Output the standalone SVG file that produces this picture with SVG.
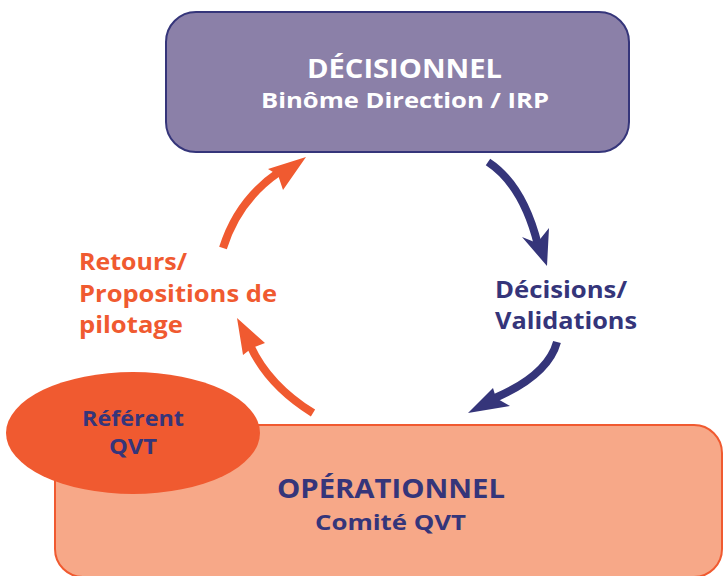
<svg xmlns="http://www.w3.org/2000/svg" width="723" height="576" viewBox="0 0 723 576">
<style>
.t{font-family:"Open Sans","Noto Sans","Liberation Sans",sans-serif;font-weight:bold;}
.navy{fill:#35357a;}
.orange{fill:#f05a30;}
.shaftN{fill:none;stroke:#35357a;stroke-width:8;}
.shaftO{fill:none;stroke:#f05a30;stroke-width:8;}
</style>
<rect width="723" height="576" fill="#ffffff"/>
<g id="decisionnel">
<rect x="166" y="12" width="463" height="140" rx="30" fill="#8b80a8" stroke="#35357a" stroke-width="2"/>
<text class="t" x="307" y="78" font-size="26" fill="#ffffff" textLength="195" lengthAdjust="spacingAndGlyphs">DÉCISIONNEL</text>
<text class="t" x="261" y="108" font-size="22" fill="#ffffff" textLength="288" lengthAdjust="spacingAndGlyphs">Binôme Direction / IRP</text>
</g>
<g id="operationnel">
<rect x="55" y="425" width="667" height="152" rx="28" fill="#f7a888" stroke="#f05a30" stroke-width="2"/>
<text class="t navy" x="277" y="498" font-size="26" textLength="228" lengthAdjust="spacingAndGlyphs">OPÉRATIONNEL</text>
<text class="t navy" x="315" y="530" font-size="21" textLength="151" lengthAdjust="spacingAndGlyphs">Comité QVT</text>
</g>
<g id="referent">
<ellipse cx="133" cy="433" rx="127" ry="61" fill="#f05a30"/>
<text class="t navy" x="82" y="426" font-size="21" textLength="102" lengthAdjust="spacingAndGlyphs">Référent</text>
<text class="t navy" x="109" y="454" font-size="21" textLength="48" lengthAdjust="spacingAndGlyphs">QVT</text>
</g>
<g id="labels">
<text class="t navy" x="495" y="298" font-size="23" textLength="132" lengthAdjust="spacingAndGlyphs">Décisions/</text>
<text class="t navy" x="495" y="329" font-size="23" textLength="142" lengthAdjust="spacingAndGlyphs">Validations</text>
<text class="t orange" x="79" y="270" font-size="23" textLength="108" lengthAdjust="spacingAndGlyphs">Retours/</text>
<text class="t orange" x="79" y="302" font-size="23" textLength="198" lengthAdjust="spacingAndGlyphs">Propositions de</text>
<text class="t orange" x="79" y="333" font-size="23" textLength="104" lengthAdjust="spacingAndGlyphs">pilotage</text>
</g>
<g id="connectors">
<path class="shaftO" d="M223,248 Q238,200 279,172"/>
<polygon class="orange" points="306,157 268,169 278,175 283,190"/>
<path class="shaftN" d="M488,162 Q523,185 538,245"/>
<polygon class="navy" points="547,266 522,237 537,243 549,228"/>
<path class="shaftN" d="M557,342 Q548,375 495,398"/>
<polygon class="navy" points="468,413 493,388 496,398 510,406"/>
<path class="shaftO" d="M313,413 Q268,385 250,345"/>
<polygon class="orange" points="237,318 243,355 252,348 265,343"/>
</g>
</svg>
